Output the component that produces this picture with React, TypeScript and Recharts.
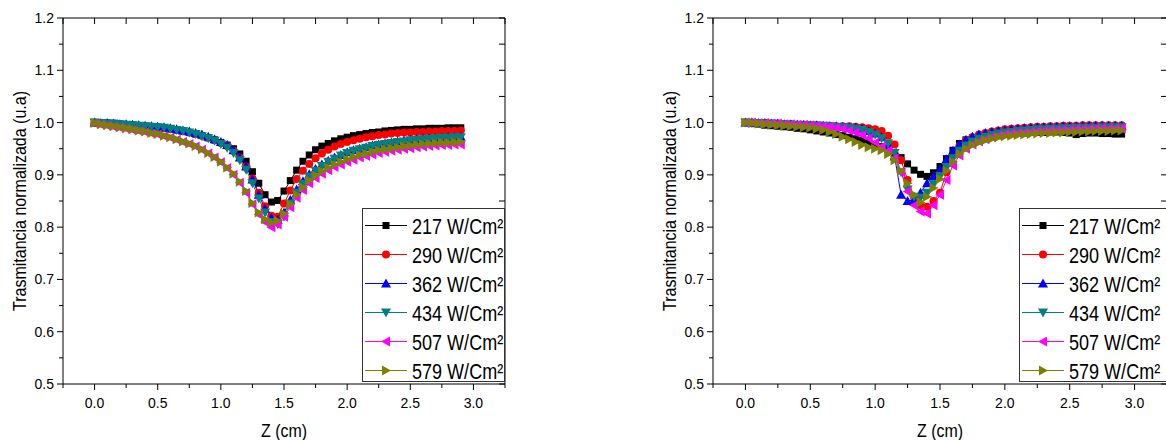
import { LineChart, Line, XAxis, YAxis, Legend } from 'recharts';

const SANS = "'Liberation Sans', Arial, sans-serif";

// Z positions (cm)
const Z = [
  0, 0.05, 0.1, 0.15, 0.2, 0.25, 0.3, 0.35, 0.4, 0.45,
  0.5, 0.55, 0.6, 0.65, 0.7, 0.75, 0.8, 0.85, 0.9, 0.95,
  1, 1.05, 1.1, 1.15, 1.2, 1.25, 1.3, 1.35, 1.4, 1.45,
  1.5, 1.55, 1.6, 1.65, 1.7, 1.75, 1.8, 1.85, 1.9, 1.95,
  2, 2.05, 2.1, 2.15, 2.2, 2.25, 2.3, 2.35, 2.4, 2.45,
  2.5, 2.55, 2.6, 2.65, 2.7, 2.75, 2.8, 2.85, 2.9,
];

const X_TICKS = [-0.25, 0, 0.25, 0.5, 0.75, 1, 1.25, 1.5, 1.75, 2, 2.25, 2.5, 2.75, 3, 3.25];
const Y_TICKS = [0.5, 0.55, 0.6, 0.65, 0.7, 0.75, 0.8, 0.85, 0.9, 0.95, 1, 1.05, 1.1, 1.15, 1.2];

// left panel
const L217 = [
  1.000, 0.999, 0.999, 0.998, 0.997, 0.996, 0.995, 0.994, 0.993, 0.992,
  0.991, 0.989, 0.988, 0.986, 0.984, 0.981, 0.978, 0.975, 0.971, 0.967,
  0.962, 0.957, 0.950, 0.940, 0.926, 0.906, 0.884, 0.862, 0.848, 0.851,
  0.869, 0.889, 0.909, 0.926, 0.938, 0.948, 0.955, 0.960, 0.965, 0.969,
  0.972, 0.975, 0.977, 0.979, 0.981, 0.982, 0.984, 0.985, 0.986, 0.987,
  0.987, 0.988, 0.988, 0.989, 0.989, 0.989, 0.990, 0.990, 0.990,
];
const L290 = [
  1.000, 0.999, 0.999, 0.998, 0.997, 0.996, 0.995, 0.994, 0.993, 0.992,
  0.991, 0.989, 0.988, 0.986, 0.984, 0.981, 0.978, 0.975, 0.971, 0.966,
  0.961, 0.955, 0.946, 0.933, 0.916, 0.893, 0.866, 0.840, 0.822, 0.820,
  0.845, 0.870, 0.892, 0.908, 0.921, 0.932, 0.941, 0.948, 0.954, 0.959,
  0.963, 0.966, 0.969, 0.972, 0.974, 0.976, 0.977, 0.979, 0.980, 0.981,
  0.981, 0.982, 0.982, 0.983, 0.983, 0.984, 0.984, 0.984, 0.985,
];
const L362 = [
  1.000, 0.999, 0.999, 0.998, 0.997, 0.997, 0.996, 0.995, 0.994, 0.993,
  0.992, 0.991, 0.989, 0.987, 0.985, 0.983, 0.980, 0.977, 0.973, 0.968,
  0.963, 0.957, 0.947, 0.933, 0.916, 0.891, 0.862, 0.835, 0.818, 0.814,
  0.828, 0.852, 0.872, 0.888, 0.901, 0.911, 0.920, 0.927, 0.933, 0.938,
  0.943, 0.947, 0.950, 0.953, 0.956, 0.958, 0.960, 0.962, 0.964, 0.965,
  0.967, 0.968, 0.969, 0.970, 0.970, 0.971, 0.972, 0.972, 0.973,
];
const L434 = [
  1.000, 0.999, 0.998, 0.998, 0.997, 0.996, 0.995, 0.994, 0.993, 0.992,
  0.991, 0.990, 0.988, 0.986, 0.984, 0.981, 0.978, 0.974, 0.970, 0.965,
  0.959, 0.952, 0.942, 0.928, 0.910, 0.884, 0.855, 0.828, 0.810, 0.806,
  0.820, 0.845, 0.866, 0.883, 0.897, 0.908, 0.917, 0.925, 0.931, 0.937,
  0.942, 0.946, 0.949, 0.952, 0.955, 0.957, 0.959, 0.961, 0.963, 0.964,
  0.966, 0.967, 0.968, 0.969, 0.970, 0.971, 0.971, 0.972, 0.972,
];
const L507 = [
  0.998, 0.996, 0.994, 0.992, 0.990, 0.988, 0.986, 0.984, 0.982, 0.979,
  0.977, 0.974, 0.971, 0.967, 0.963, 0.959, 0.954, 0.948, 0.941, 0.933,
  0.924, 0.913, 0.900, 0.885, 0.866, 0.844, 0.824, 0.810, 0.800, 0.805,
  0.820, 0.838, 0.856, 0.871, 0.884, 0.894, 0.902, 0.909, 0.915, 0.920,
  0.925, 0.929, 0.933, 0.936, 0.939, 0.942, 0.944, 0.946, 0.948, 0.950,
  0.951, 0.953, 0.954, 0.955, 0.956, 0.957, 0.957, 0.958, 0.958,
];
const L579 = [
  0.999, 0.997, 0.995, 0.993, 0.991, 0.989, 0.987, 0.985, 0.983, 0.980,
  0.978, 0.975, 0.972, 0.968, 0.964, 0.960, 0.955, 0.949, 0.942, 0.934,
  0.925, 0.914, 0.902, 0.887, 0.869, 0.846, 0.828, 0.815, 0.809, 0.812,
  0.826, 0.844, 0.862, 0.876, 0.889, 0.899, 0.907, 0.914, 0.920, 0.925,
  0.930, 0.934, 0.938, 0.941, 0.944, 0.947, 0.949, 0.951, 0.953, 0.955,
  0.956, 0.958, 0.959, 0.960, 0.961, 0.962, 0.962, 0.963, 0.963,
];

// right panel
const R217 = [
  1.000, 0.998, 0.997, 0.995, 0.994, 0.993, 0.992, 0.991, 0.989, 0.988,
  0.986, 0.984, 0.982, 0.980, 0.977, 0.975, 0.972, 0.969, 0.966, 0.962,
  0.958, 0.954, 0.949, 0.942, 0.933, 0.921, 0.909, 0.901, 0.897, 0.904,
  0.916, 0.931, 0.947, 0.960, 0.967, 0.971, 0.973, 0.975, 0.976, 0.977,
  0.978, 0.979, 0.980, 0.980, 0.981, 0.981, 0.981, 0.982, 0.982, 0.981,
  0.980, 0.977, 0.979, 0.980, 0.980, 0.979, 0.979, 0.978, 0.978,
];
const R290 = [
  1.000, 1.000, 0.999, 0.999, 0.998, 0.998, 0.997, 0.997, 0.996, 0.996,
  0.995, 0.995, 0.994, 0.994, 0.993, 0.993, 0.993, 0.992, 0.991, 0.989,
  0.987, 0.984, 0.975, 0.958, 0.928, 0.890, 0.858, 0.842, 0.839, 0.850,
  0.866, 0.905, 0.937, 0.955, 0.965, 0.972, 0.977, 0.980, 0.983, 0.985,
  0.987, 0.988, 0.989, 0.990, 0.991, 0.992, 0.992, 0.993, 0.993, 0.994,
  0.994, 0.994, 0.995, 0.995, 0.995, 0.995, 0.995, 0.995, 0.995,
];
const R362 = [
  1.000, 1.000, 0.999, 0.999, 0.998, 0.998, 0.997, 0.997, 0.996, 0.996,
  0.995, 0.995, 0.994, 0.993, 0.993, 0.992, 0.991, 0.990, 0.988, 0.984,
  0.979, 0.972, 0.958, 0.935, 0.862, 0.850, 0.852, 0.866, 0.884, 0.897,
  0.911, 0.930, 0.946, 0.958, 0.967, 0.973, 0.977, 0.980, 0.982, 0.984,
  0.986, 0.987, 0.988, 0.989, 0.990, 0.991, 0.991, 0.992, 0.992, 0.993,
  0.993, 0.993, 0.994, 0.994, 0.994, 0.994, 0.994, 0.994, 0.994,
];
const R434 = [
  1.000, 0.999, 0.999, 0.998, 0.998, 0.997, 0.997, 0.996, 0.996, 0.995,
  0.995, 0.994, 0.994, 0.993, 0.992, 0.991, 0.990, 0.988, 0.986, 0.982,
  0.977, 0.970, 0.960, 0.942, 0.905, 0.872, 0.858, 0.856, 0.866, 0.882,
  0.898, 0.915, 0.932, 0.946, 0.956, 0.964, 0.969, 0.973, 0.976, 0.979,
  0.981, 0.982, 0.984, 0.985, 0.986, 0.987, 0.987, 0.988, 0.988, 0.989,
  0.989, 0.990, 0.990, 0.990, 0.990, 0.991, 0.991, 0.991, 0.991,
];
const R507 = [
  1.000, 1.000, 0.999, 0.999, 0.998, 0.998, 0.997, 0.997, 0.996, 0.996,
  0.995, 0.994, 0.993, 0.992, 0.990, 0.988, 0.985, 0.981, 0.976, 0.970,
  0.962, 0.954, 0.946, 0.932, 0.905, 0.868, 0.842, 0.830, 0.826, 0.842,
  0.862, 0.890, 0.918, 0.937, 0.950, 0.958, 0.964, 0.968, 0.972, 0.975,
  0.977, 0.979, 0.980, 0.981, 0.982, 0.983, 0.984, 0.985, 0.985, 0.986,
  0.986, 0.987, 0.987, 0.987, 0.988, 0.988, 0.988, 0.988, 0.988,
];
const R579 = [
  1.000, 0.999, 0.998, 0.997, 0.996, 0.995, 0.994, 0.993, 0.992, 0.991,
  0.990, 0.988, 0.986, 0.982, 0.978, 0.973, 0.968, 0.963, 0.957, 0.953,
  0.950, 0.947, 0.940, 0.928, 0.908, 0.884, 0.862, 0.847, 0.858, 0.875,
  0.892, 0.908, 0.925, 0.940, 0.950, 0.957, 0.962, 0.966, 0.969, 0.972,
  0.974, 0.975, 0.976, 0.977, 0.978, 0.979, 0.980, 0.980, 0.981, 0.981,
  0.982, 0.982, 0.983, 0.983, 0.984, 0.984, 0.984, 0.985, 0.985,
];

type Shape = 'square' | 'circle' | 'up' | 'down' | 'left' | 'right';

const SERIES: { key: string; label: string; color: string; shape: Shape }[] = [
  { key: 's217', label: '217', color: '#000000', shape: 'square' },
  { key: 's290', label: '290', color: '#ff0000', shape: 'circle' },
  { key: 's362', label: '362', color: '#0000ff', shape: 'up' },
  { key: 's434', label: '434', color: '#008080', shape: 'down' },
  { key: 's507', label: '507', color: '#ff00ff', shape: 'left' },
  { key: 's579', label: '579', color: '#808000', shape: 'right' },
];

const buildData = (cols: number[][]) =>
  Z.map((z, i) => {
    const row: Record<string, number> = { z };
    SERIES.forEach((s, j) => (row[s.key] = cols[j][i]));
    return row;
  });

const leftData = buildData([L217, L290, L362, L434, L507, L579]);
const rightData = buildData([R217, R290, R362, R434, R507, R579]);

function Marker({ shape, cx, cy, color }: { shape: Shape; cx: number; cy: number; color: string }) {
  const pts = (p: number[][]) => p.map(([a, b]) => `${cx + a},${cy + b}`).join(' ');
  switch (shape) {
    case 'square':
      return <rect x={cx - 3.5} y={cy - 3.5} width={7} height={7} fill={color} />;
    case 'circle':
      return <circle cx={cx} cy={cy} r={4} fill={color} />;
    case 'up':
      return <polygon points={pts([[0, -5], [-5, 4], [5, 4]])} fill={color} />;
    case 'down':
      return <polygon points={pts([[0, 5], [-5, -4], [5, -4]])} fill={color} />;
    case 'left':
      return <polygon points={pts([[-5, 0], [4, -5], [4, 5]])} fill={color} />;
    default:
      return <polygon points={pts([[5, 0], [-4, -5], [-4, 5]])} fill={color} />;
  }
}

const isMajorX = (v: number) => Math.abs(v * 2 - Math.round(v * 2)) < 1e-6;
const isMajorY = (v: number) => Math.abs(v * 10 - Math.round(v * 10)) < 1e-6;

const BottomTick = (p: any) => {
  const major = isMajorX(p.payload.value);
  return (
    <g>
      <line x1={p.x} x2={p.x} y1={p.y} y2={p.y + (major ? 6 : 4)} stroke="#000" />
      {major && (
        <text x={p.x} y={p.y + 24} textAnchor="middle" fontSize={14} fontFamily={SANS} fill="#000">
          {p.payload.value.toFixed(1)}
        </text>
      )}
    </g>
  );
};

const TopTick = (p: any) => (
  <line x1={p.x} x2={p.x} y1={p.y} y2={p.y + 6} stroke="#000" />
);

const LeftTick = (p: any) => {
  const major = isMajorY(p.payload.value);
  return (
    <g>
      <line x1={p.x - (major ? 6 : 4)} x2={p.x} y1={p.y} y2={p.y} stroke="#000" />
      {major && (
        <text x={p.x - 9} y={p.y + 5} textAnchor="end" fontSize={14} fontFamily={SANS} fill="#000">
          {p.payload.value.toFixed(1)}
        </text>
      )}
    </g>
  );
};

const RightTick = (p: any) => (
  <line x1={p.x - 6} x2={p.x} y1={p.y} y2={p.y} stroke="#000" />
);

// the original legend uses a condensed face; squeeze it horizontally
const renderLegend = (width: number) => (props: any) => (
  <div
    style={{
      width,
      height: 174,
      boxSizing: 'border-box',
      border: '1px solid #333',
      background: '#fff',
      paddingTop: 2,
    }}
  >
    {(props.payload || []).map((item: any) => {
      const s = SERIES.find((x) => x.key === item.dataKey)!;
      return (
        <svg key={s.key} width={width - 2} height={29} style={{ display: 'block', overflow: 'visible' }}>
          <line x1={2} x2={44} y1={14.5} y2={14.5} stroke={s.color} />
          <Marker shape={s.shape} cx={23} cy={14.5} color={s.color} />
          <text transform="translate(49 22.5) scale(0.82 1)" x={0} y={0} fontSize={22} fontFamily={SANS} fill="#000">
            {`${s.label} W/Cm²`}
          </text>
        </svg>
      );
    })}
  </div>
);

const yTitle = (props: any) => {
  const vb = props.viewBox;
  const cx = vb.x + 19;
  const cy = vb.y + vb.height / 2;
  return (
    <text
      x={cx}
      y={cy}
      transform={`rotate(-90 ${cx} ${cy})`}
      textAnchor="middle"
      dominantBaseline="central"
      fontSize={19}
      fontFamily={SANS}
      textLength={220}
      lengthAdjust="spacingAndGlyphs"
      fill="#000"
    >
      Trasmitancia normalizada (u.a)
    </text>
  );
};

const xTitle = (props: any) => {
  const vb = props.viewBox;
  return (
    <text
      x={vb.x + vb.width / 2}
      y={vb.y + 53}
      textAnchor="middle"
      fontSize={19}
      fontFamily={SANS}
      textLength={46}
      lengthAdjust="spacingAndGlyphs"
      fill="#000"
    >
      Z (cm)
    </text>
  );
};

function Panel({ left, width, data, legendLeft, legendWidth }: {
  left: number;
  width: number;
  data: Record<string, number>[];
  legendLeft: number;
  legendWidth: number;
}) {
  const axisLine = { stroke: '#000', strokeWidth: 1 };
  return (
    <div style={{ position: 'absolute', left, top: 0 }}>
      <LineChart width={width} height={440} data={data} margin={{ top: 0, right: 0, bottom: 0, left: 0 }}>
        <XAxis
          xAxisId="b"
          dataKey="z"
          type="number"
          orientation="bottom"
          domain={[-0.25, 3.25]}
          ticks={X_TICKS}
          interval={0}
          height={56}
          tickSize={0}
          tickMargin={0}
          tick={BottomTick}
          axisLine={axisLine}
          allowDataOverflow
          label={xTitle}
        />
        <XAxis
          xAxisId="t"
          dataKey="z"
          type="number"
          orientation="top"
          domain={[-0.25, 3.25]}
          ticks={X_TICKS}
          interval={0}
          height={18}
          tickSize={0}
          tickMargin={0}
          tick={TopTick}
          axisLine={axisLine}
          allowDataOverflow
        />
        <YAxis
          yAxisId="l"
          type="number"
          orientation="left"
          domain={[0.5, 1.2]}
          ticks={Y_TICKS}
          interval={0}
          width={63}
          tickSize={0}
          tickMargin={0}
          tick={LeftTick}
          axisLine={axisLine}
          allowDataOverflow
          label={yTitle}
        />
        <YAxis
          yAxisId="r"
          type="number"
          orientation="right"
          domain={[0.5, 1.2]}
          ticks={Y_TICKS}
          interval={0}
          width={15}
          tickSize={0}
          tickMargin={0}
          tick={RightTick}
          axisLine={axisLine}
          allowDataOverflow
        />
        {SERIES.map((s) => (
          <Line
            key={s.key}
            xAxisId="b"
            yAxisId="l"
            type="linear"
            dataKey={s.key}
            name={s.label}
            stroke={s.color}
            strokeWidth={1}
            isAnimationActive={false}
            activeDot={false}
            dot={(p: any) => <Marker key={`${s.key}-${p.index}`} shape={s.shape} cx={p.cx} cy={p.cy} color={s.color} />}
          />
        ))}
        <Legend
          layout="vertical"
          align="center"
          verticalAlign="middle"
          content={renderLegend(legendWidth)}
          wrapperStyle={{ left: legendLeft, top: 208, width: legendWidth, height: 174 }}
        />
      </LineChart>
    </div>
  );
}

export default function App() {
  return (
    <div style={{ position: 'absolute', left: 0, top: 0, width: 1166, height: 440, overflow: 'hidden', background: '#fff' }}>
      <Panel left={0} width={520} data={leftData} legendLeft={362} legendWidth={143} />
      <Panel left={650} width={532} data={rightData} legendLeft={369} legendWidth={148} />
    </div>
  );
}
